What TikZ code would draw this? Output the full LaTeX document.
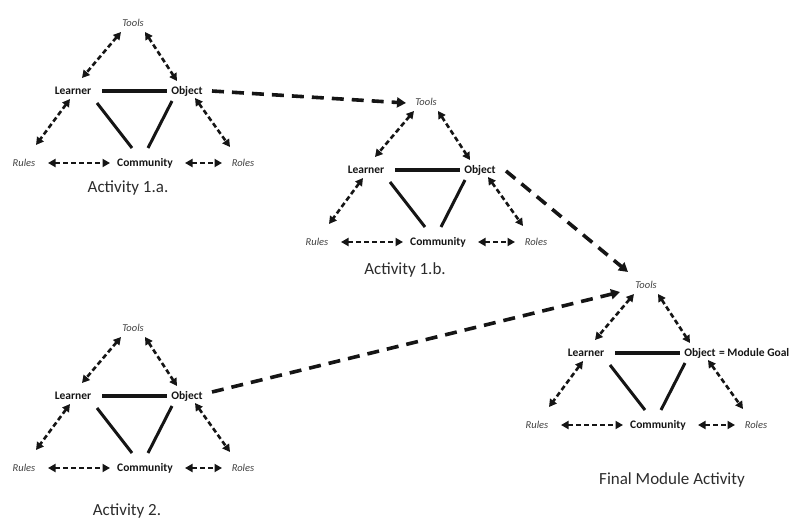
\documentclass[tikz,border=0pt]{standalone}
\usepackage{fontspec}
\setmainfont{Carlito}
\usetikzlibrary{arrows.meta}

\definecolor{ink}{HTML}{151515}
\definecolor{soft}{HTML}{404040}

\tikzset{
  key/.style={font=\fontsize{11.5}{12}\selectfont\bfseries, text=ink, inner sep=2pt},
  aux/.style={font=\fontsize{10.5}{12}\selectfont\itshape, text=soft, inner sep=2pt},
  caption/.style={font=\fontsize{17}{19}\selectfont, text=ink!90},
  link/.style={draw=ink, line width=3pt},
  baselink/.style={draw=ink, line width=3.6pt},
  relation/.style={draw=ink, line width=2.6pt, dash pattern=on 5pt off 3pt,
    {Triangle[length=7.5pt,width=8pt]}-{Triangle[length=7.5pt,width=8pt]}},
  flow/.style={draw=ink, line width=3.6pt, dash pattern=on 12pt off 8pt,
    -{Triangle[length=9pt,width=10pt]}},
}

% One activity triangle: #1 = name prefix, #2 = position of "Community"
\newcommand\activitytri[2]{%
  \node[key] (#1c) at (#2) {Community};
  \node[aux] (#1t) at ([shift={(-12,-140)}]#1c.center) {Tools};
  \node[key] (#1l) at ([shift={(-72,-72)}]#1c.center) {Learner};
  \node[key] (#1o) at ([shift={(42,-72)}]#1c.center) {Object};
  \node[aux] (#1r) at ([shift={(-121,0)}]#1c.center) {Rules};
  \node[aux] (#1s) at ([shift={(98,0)}]#1c.center) {Roles};
  % mediated relations
  \draw[relation] ([shift={(-12,9)}]#1t.center) -- ([shift={(9,-13)}]#1l.center);
  \draw[relation] ([shift={(12,9)}]#1t.center) -- ([shift={(-10,-10)}]#1o.center);
  \draw[relation] ([shift={(-3,8)}]#1l.center) -- ([shift={(12,-18)}]#1r.center);
  \draw[relation] ([shift={(8,7)}]#1o.center) -- ([shift={(-13,-16)}]#1s.center);
  \draw[relation] ([xshift=24]#1r.center) -- ([xshift=-35]#1c.center);
  \draw[relation] ([xshift=40]#1c.center) -- ([xshift=-21]#1s.center);
  % direct relations
  \draw[baselink] ([xshift=29]#1l.center) -- ([xshift=-20]#1o.center);
  \draw[link] ([shift={(24,12)}]#1l.center) -- ([shift={(-13,-15)}]#1c.center);
  \draw[link] ([shift={(-15,10)}]#1o.center) -- ([shift={(3,-15)}]#1c.center);
}

\begin{document}
\begin{tikzpicture}[x=1pt,y=-1pt]
  \useasboundingbox (0,0) rectangle (795,519);

  \activitytri{a}{145,163}
  \activitytri{b}{438,242}
  \activitytri{d}{145,468}
  \activitytri{f}{658,425}
  \node[key, anchor=west, inner sep=0pt] (goal) at ([xshift=1pt]fo.east) {= Module Goal};

  \node[caption] (capa) at (128,188) {Activity 1.a.};
  \node[caption] (capb) at (405,270) {Activity 1.b.};
  \node[caption] (capd) at (127,511) {Activity 2.};
  \node[caption] (capf) at (672,480) {Final Module Activity};

  % activities feeding the next one
  \draw[flow] ([xshift=25]ao.center) -- ([shift={(-20,1)}]bt.center);
  \draw[flow] ([shift={(26,1)}]bo.center) -- ([shift={(-18,-13)}]ft.center);
  \draw[flow] ([shift={(25,-4)}]do.center) -- ([shift={(-26,7)}]ft.center);
\end{tikzpicture}
\end{document}
